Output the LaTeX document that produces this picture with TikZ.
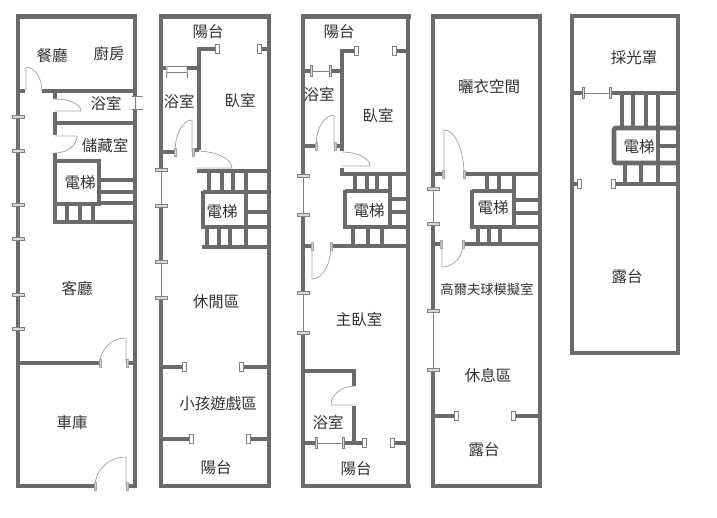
\documentclass[tikz,border=0pt]{standalone}
\usepackage{fontspec}
\newfontfamily\cjk{Noto Sans CJK TC}
\definecolor{wallc}{HTML}{6A6A6A}
\definecolor{txtc}{HTML}{333333}
\tikzset{
  wall/.style={line width=4.6pt,draw=wallc,line cap=butt},
  stairw/.style={line width=3.8pt,draw=wallc,line cap=butt},
  thinw/.style={line width=0.9pt,draw=gray},
  tick/.style={fill=gray!30,draw=gray,line width=0.5pt},
  post/.style={fill=white,draw=gray,line width=0.8pt},
  leaf/.style={draw=gray!75,line width=0.5pt,double=gray!25,double distance=1.2pt},
  swing/.style={draw=gray!85,line width=0.6pt},
  dtickst/.style={fill=gray!40,draw=gray!70,line width=0.3pt},
  lbl/.style={font=\cjk\fontsize{15.5}{15.5}\selectfont,text=txtc,inner sep=0pt},
  lblsmall/.style={font=\cjk\fontsize{13.3}{13.3}\selectfont,text=txtc,inner sep=0pt},
}
% vertical window in a wall: x, y1, y2
\newcommand{\vwin}[3]{\draw[thinw] (#1,#2) -- (#1,#3);
  \draw[tick] (#1-6,#2-1.4) rectangle (#1+6,#2+1.4);
  \draw[tick] (#1-6,#3-1.4) rectangle (#1+6,#3+1.4);}
% horizontal window in a wall: y, x1, x2
\newcommand{\hwin}[3]{\draw[thinw] (#2,#1) -- (#3,#1);
  \draw[tick] (#2-1,#1-5.5) rectangle (#2+1,#1+5.5);
  \draw[tick] (#3-1,#1-5.5) rectangle (#3+1,#1+5.5);}
% small post closing a wall end: x, y
\newcommand{\hpost}[2]{\draw[post] (#1-2,#2-4.5) rectangle (#1+2,#2+4.5);}
% small tick at a door jamb: x, y
\newcommand{\dtick}[2]{\draw[dtickst] (#1-1.1,#2-4) rectangle (#1+1.1,#2+4);}
% door: hinge (hx,hy), leaf tip (bx,by), free end of the arc (ax,ay)
\newcommand{\doorswing}[6]{\draw[leaf] (#1,#2) -- (#3,#4);
  \draw[swing] (#3,#4) .. controls ({#3+0.55*(#5-#1)},{#4+0.55*(#6-#2)}) and ({#5+0.55*(#3-#1)},{#6+0.55*(#4-#2)}) .. (#5,#6);}
\begin{document}
\begin{tikzpicture}[x=1pt,y=-1pt]
\useasboundingbox[fill=white] (0,0) rectangle (717,517);

% ---------- panel 1 ----------
\draw[wall] (16,16.5) -- (137,16.5);
\draw[wall] (18,14.5) -- (18,488);
\draw[wall] (135,14.5) -- (135,96);
\draw[wall] (135,110) -- (135,488);
\draw[wall] (16,486) -- (95,486);
\draw[wall] (128,486) -- (137,486);
\draw[wall] (18,91) -- (25,91);
\draw[wall] (42,91) -- (135,91);
\draw[wall] (18,363) -- (100,363);
\draw[wall] (128,363) -- (135,363);
\draw[wall] (55,91) -- (55,99);
\draw[wall] (55,112) -- (55,135);
\draw[wall] (55,123) -- (135,123);
\draw[wall] (55,153) -- (55,224);
\draw[stairw] (55,161) -- (99,161) -- (99,204) -- (55,204);
\draw[stairw] (99,180) -- (135,180);
\draw[stairw] (99,192) -- (135,192);
\draw[stairw] (99,203) -- (135,203);
\draw[wall] (55,222) -- (135,222);
\foreach \xx in {67,80,93}{\draw[stairw] (\xx,204) -- (\xx,222);}
\vwin{18}{117}{151}
\vwin{18}{205}{239}
\vwin{18}{295}{329}
\draw[thinw] (135,96) -- (135,109);
\draw[thinw] (131.5,96) -- (143,96);
\draw[thinw] (131.5,109) -- (143,109);
\doorswing{26}{91}{26}{67}{42}{91}
\doorswing{55}{111}{81}{111}{55}{99}
\doorswing{55}{136}{77}{136}{55}{153}
\doorswing{126}{363}{126}{338}{100}{363}
\doorswing{126}{486}{126}{457}{95}{486}
\dtick{100}{363}\dtick{127}{363}\dtick{95}{486}\dtick{127}{486}
\node[lbl] (n1) at (52,56) {餐廳};
\node[lbl] (n2) at (109,54) {廚房};
\node[lbl] (n3) at (106,104) {浴室};
\node[lbl] (n4) at (105,146) {儲藏室};
\node[lbl] (n5) at (80,183) {電梯};
\node[lbl] (n6) at (77,289) {客廳};
\node[lbl] (n7) at (72,423) {車庫};

% ---------- panel 2 ----------
\draw[wall] (159,16.5) -- (271,16.5);
\draw[wall] (159,486) -- (271,486);
\draw[wall] (161,14.5) -- (161,170);
\draw[wall] (161,206) -- (161,262);
\draw[wall] (161,298) -- (161,488);
\draw[wall] (269,14.5) -- (269,488);
\draw[wall] (199,150) -- (199,49) -- (217,49);
\draw[wall] (259,49) -- (269,49);
\hpost{217}{49}\hpost{259}{49}
\draw[wall] (161,68) -- (166,68);
\draw[wall] (187,68) -- (199,68);
\draw[thinw] (167,66.5) -- (187,66.5);
\draw[thinw] (167,72) -- (187,72);
\draw[thinw] (167,66) -- (166.5,78);
\draw[thinw] (187,66) -- (187.5,78);
\draw[wall] (161,152) -- (175,152);
\draw[wall] (192,150) -- (199,150);
\doorswing{192}{152}{192}{120}{175}{152}
\doorswing{196}{168}{232}{168}{196}{151}
\dtick{175}{152}\dtick{193}{152}
\draw[wall] (197,171) -- (269,171);
\draw[wall] (203,192) -- (269,192);
\draw[wall] (203,190.5) -- (203,228.5);
\draw[wall] (246,171) -- (246,247);
\draw[wall] (203,227) -- (269,227);
\draw[stairw] (246,212) -- (269,212);
\draw[wall] (202,247) -- (269,247);
\foreach \xx in {209,222,233}{\draw[stairw] (\xx,171) -- (\xx,192);}
\foreach \xx in {207,219,230}{\draw[stairw] (\xx,227) -- (\xx,247);}
\vwin{161}{170}{206}
\vwin{161}{262}{298}
\draw[wall] (161,367) -- (183,367);
\draw[wall] (243,367) -- (269,367);
\hpost{184}{367}\hpost{241}{367}
\draw[wall] (161,439) -- (189,439);
\draw[wall] (250,439) -- (269,439);
\hpost{191}{439}\hpost{248}{439}
\node[lbl] (n8) at (208,32) {陽台};
\node[lbl] (n9) at (179,102) {浴室};
\node[lbl] (n10) at (240,101) {臥室};
\node[lbl] (n11) at (222,212) {電梯};
\node[lbl] (n12) at (216,302) {休閒區};
\node[lbl] (n13) at (218,404) {小孩遊戲區};
\node[lbl] (n14) at (216,468) {陽台};

% ---------- panel 3 ----------
\draw[wall] (301,16.5) -- (411,16.5);
\draw[wall] (301,486) -- (411,486);
\draw[wall] (303,14.5) -- (303,176);
\draw[wall] (303,215) -- (303,293);
\draw[wall] (303,333) -- (303,488);
\draw[wall] (408,14.5) -- (408,488);
\draw[wall] (342,151) -- (342,51) -- (354,51);
\draw[wall] (396,51) -- (408,51);
\hpost{356}{51}\hpost{394}{51}
\draw[wall] (303,71) -- (311,71);
\draw[wall] (330,71) -- (342,71);
\hwin{71}{311}{330}
\draw[wall] (303,146) -- (316,146);
\draw[wall] (335,146) -- (342,146);
\doorswing{334}{146}{334}{115}{316}{146}
\doorswing{342}{166}{370}{166}{342}{152}
\dtick{316}{146}\dtick{335}{146}
\draw[wall] (342,168) -- (342,175);
\draw[wall] (340,174) -- (408,174);
\draw[wall] (345,191) -- (391,191);
\draw[wall] (345,189.5) -- (345,228.5);
\draw[wall] (343.5,227) -- (408,227);
\draw[wall] (390,174) -- (390,227);
\draw[stairw] (390,199) -- (408,199);
\draw[stairw] (390,212) -- (408,212);
\foreach \xx in {355,367,377}{\draw[stairw] (\xx,174) -- (\xx,191);}
\foreach \xx in {353,368,382}{\draw[stairw] (\xx,227) -- (\xx,246);}
\draw[wall] (303,246) -- (311,246);
\draw[wall] (331,246) -- (408,246);
\doorswing{312}{246}{312}{279}{331}{246}
\dtick{312}{246}\dtick{331}{246}
\vwin{303}{176}{215}
\vwin{303}{293}{333}
\draw[wall] (303,371) -- (356,371);
\draw[wall] (354,371) -- (354,386);
\draw[wall] (354,406) -- (354,443);
\doorswing{355}{405}{331}{405}{355}{386}
\draw[wall] (303,443) -- (316,443);
\draw[wall] (343,443) -- (363,443);
\draw[wall] (394,443) -- (408,443);
\hwin{443}{316}{343}
\hpost{364}{443}\hpost{392}{443}
\node[lbl] (n15) at (339,32) {陽台};
\node[lbl] (n16) at (319,95) {浴室};
\node[lbl] (n17) at (378,116) {臥室};
\node[lbl] (n18) at (369,211) {電梯};
\node[lbl] (n19) at (359,320) {主臥室};
\node[lbl] (n20) at (328,423) {浴室};
\node[lbl] (n21) at (356,469) {陽台};

% ---------- panel 4 ----------
\draw[wall] (431,16.5) -- (542,16.5);
\draw[wall] (431,486) -- (542,486);
\draw[wall] (433,14.5) -- (433,189);
\draw[wall] (433,224) -- (433,311);
\draw[wall] (433,370) -- (433,488);
\draw[wall] (540,14.5) -- (540,488);
\draw[wall] (433,174) -- (443,174);
\draw[wall] (464,174) -- (540,174);
\doorswing{444}{174}{444}{130}{464}{174}
\dtick{443}{174}\dtick{464}{174}
\vwin{433}{189}{224}
\vwin{433}{311}{370}
\draw[wall] (433,244) -- (441,244);
\draw[wall] (463,244) -- (540,244);
\doorswing{442}{244}{442}{267}{463}{244}
\dtick{441}{244}\dtick{463}{244}
\draw[wall] (472,191) -- (515,191);
\draw[wall] (472,189.5) -- (472,228.5);
\draw[wall] (470.5,227) -- (540,227);
\draw[wall] (514,174) -- (514,227);
\draw[stairw] (514,200) -- (540,200);
\draw[stairw] (514,213) -- (540,213);
\foreach \xx in {487,499}{\draw[stairw] (\xx,174) -- (\xx,191);}
\foreach \xx in {478,489,500}{\draw[stairw] (\xx,227) -- (\xx,244);}
\draw[wall] (433,416) -- (454,416);
\draw[wall] (515,416) -- (540,416);
\hpost{456}{416}\hpost{513}{416}
\node[lbl] (n22) at (489,87) {曬衣空間};
\node[lbl] (n23) at (493,208) {電梯};
\node[lblsmall] (n24) at (487,289) {高爾夫球模擬室};
\node[lbl] (n25) at (488,376) {休息區};
\node[lbl] (n26) at (484,450) {露台};

% ---------- panel 5 ----------
\draw[wall] (570,16) -- (680,16);
\draw[wall] (572,14) -- (572,355);
\draw[wall] (678,14) -- (678,355);
\draw[wall] (570,353) -- (680,353);
\draw[wall] (572,93) -- (583,93);
\draw[wall] (610,93) -- (678,93);
\hwin{93}{583}{610}
\foreach \xx in {622,633,646}{\draw[stairw] (\xx,93) -- (\xx,128);}
\draw[wall] (658,93) -- (658,184);
\draw[wall,rounded corners=2pt] (678,128) -- (614,128) -- (614,163) -- (678,163);
\draw[stairw] (658,146) -- (678,146);
\foreach \xx in {625,641}{\draw[stairw] (\xx,163) -- (\xx,184);}
\draw[wall] (615,184) -- (678,184);
\draw[wall] (572,184) -- (577,184);
\hpost{579}{184}\hpost{613}{184}
\node[lbl] (n27) at (634,58) {採光罩};
\node[lbl] (n28) at (639,147) {電梯};
\node[lbl] (n29) at (627,277) {露台};
\end{tikzpicture}
\end{document}
